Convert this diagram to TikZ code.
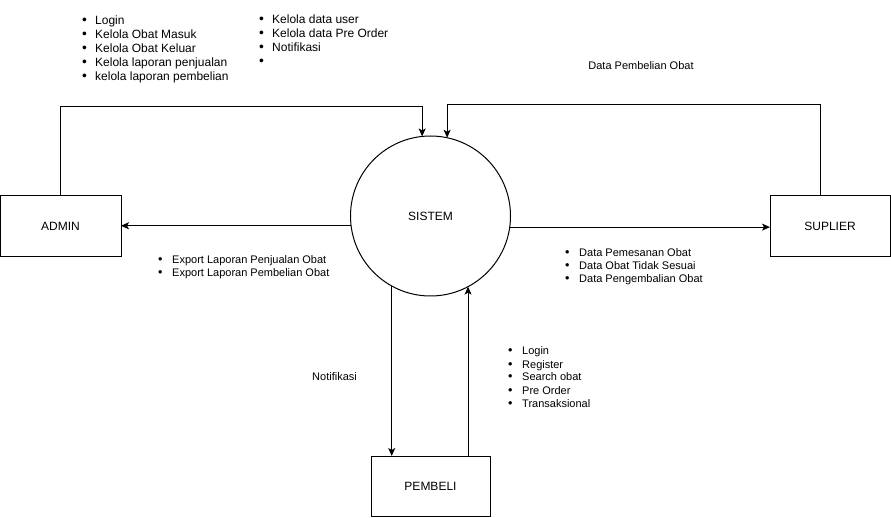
\documentclass[tikz,border=0pt]{standalone}
\usepackage{fontspec}
\setmainfont{Liberation Sans}
\usetikzlibrary{arrows.meta,calc}
\begin{document}
\begin{tikzpicture}[x=1pt,y=-1pt,
  box/.style={draw,line width=1pt,rectangle,inner sep=0pt,outer sep=0pt,font=\fontsize{12}{14}\selectfont},
  proc/.style={draw,line width=1pt,circle,inner sep=0pt,outer sep=0pt,minimum size=160pt,font=\fontsize{12}{14}\selectfont},
  arr/.style={line width=1pt,-{Stealth[length=8pt,width=7pt,inset=2pt]}},
  lbl/.style={inner sep=0pt,anchor=base west},
  big/.style={lbl,font=\fontsize{12}{14}\selectfont},
  small/.style={lbl,font=\fontsize{11}{13}\selectfont},
]
\useasboundingbox (0,0) rectangle (891,518);
\newcommand{\itm}[1]{\makebox[13pt][l]{\scalebox{1.15}{•}}#1}
\newcommand{\sitm}[1]{\makebox[14pt][l]{\scalebox{1.15}{•}}#1}

\node[box,minimum width=121pt,minimum height=61pt] (admin) at (60.5,226.5) {\raisebox{-0.5pt}{ADMIN}};
\node[box,minimum width=120pt,minimum height=61pt] (sup) at (830,226.5) {\raisebox{-0.5pt}{SUPLIER}};
\node[box,minimum width=119pt,minimum height=60pt] (pem) at (430.5,486) {\raisebox{-1pt}{PEMBELI}};
\node[proc] (sis) at (430.5,216) {\raisebox{-1pt}{SISTEM}};

\coordinate (k1) at (0,107);
\coordinate (k2) at (0,105);
\coordinate (supout) at (820,196);

\draw[arr] (admin.north) |- (sis.96.8 |- k1) -- (sis.96.8);
\draw[arr] (supout) |- (sis.78.8 |- k2) -- (sis.78.8);
\draw[arr] (sis.187.2) -- (admin.east |- sis.187.2);
\draw[arr] (sis.352.8) -- (sup.west |- sis.352.8);
\draw[arr] (sis.241.2) -- (sis.241.2 |- pem.north);
\draw[arr] (sis.298.8 |- pem.north) -- (sis.298.8);

% top-left list
\node[big] (a1) at (82,24.5) {\itm{Login}};
\node[big] (a2) at (82,38.5) {\itm{Kelola Obat Masuk}};
\node[big] (a3) at (82,52.5) {\itm{Kelola Obat Keluar}};
\node[big] (a4) at (82,66.5) {\itm{Kelola laporan penjualan}};
\node[big] (a5) at (82,80.5) {\itm{kelola laporan pembelian}};
% second list
\node[big] (b1) at (259,23.5) {\itm{Kelola data user}};
\node[big] (b2) at (259,37.5) {\itm{Kelola data Pre Order}};
\node[big] (b3) at (259,51.5) {\itm{Notifikasi}};
\node[big] (b4) at (259,65.5) {\itm{}};

\node[small,anchor=base] (dpo) at (641,70) {Data Pembelian Obat};

% export list
\node[small] (e1) at (158,263.5) {\sitm{Export Laporan Penjualan Obat}};
\node[small] (e2) at (158,276.5) {\sitm{Export Laporan Pembelian Obat}};

% supplier data list
\node[small] (d1) at (565,257) {\sitm{Data Pemesanan Obat}};
\node[small] (d2) at (565,270) {\sitm{Data Obat Tidak Sesuai}};
\node[small] (d3) at (565,283) {\sitm{Data Pengembalian Obat}};

\node[small,anchor=base] (notif) at (334.5,381) {Notifikasi};

% pembeli list
\node[small] (p1) at (508,355) {\sitm{Login}};
\node[small] (p2) at (508,368) {\sitm{Register}};
\node[small] (p3) at (508,381) {\sitm{Search obat}};
\node[small] (p4) at (508,394) {\sitm{Pre Order}};
\node[small] (p5) at (508,407) {\sitm{Transaksional}};
\end{tikzpicture}
\end{document}
